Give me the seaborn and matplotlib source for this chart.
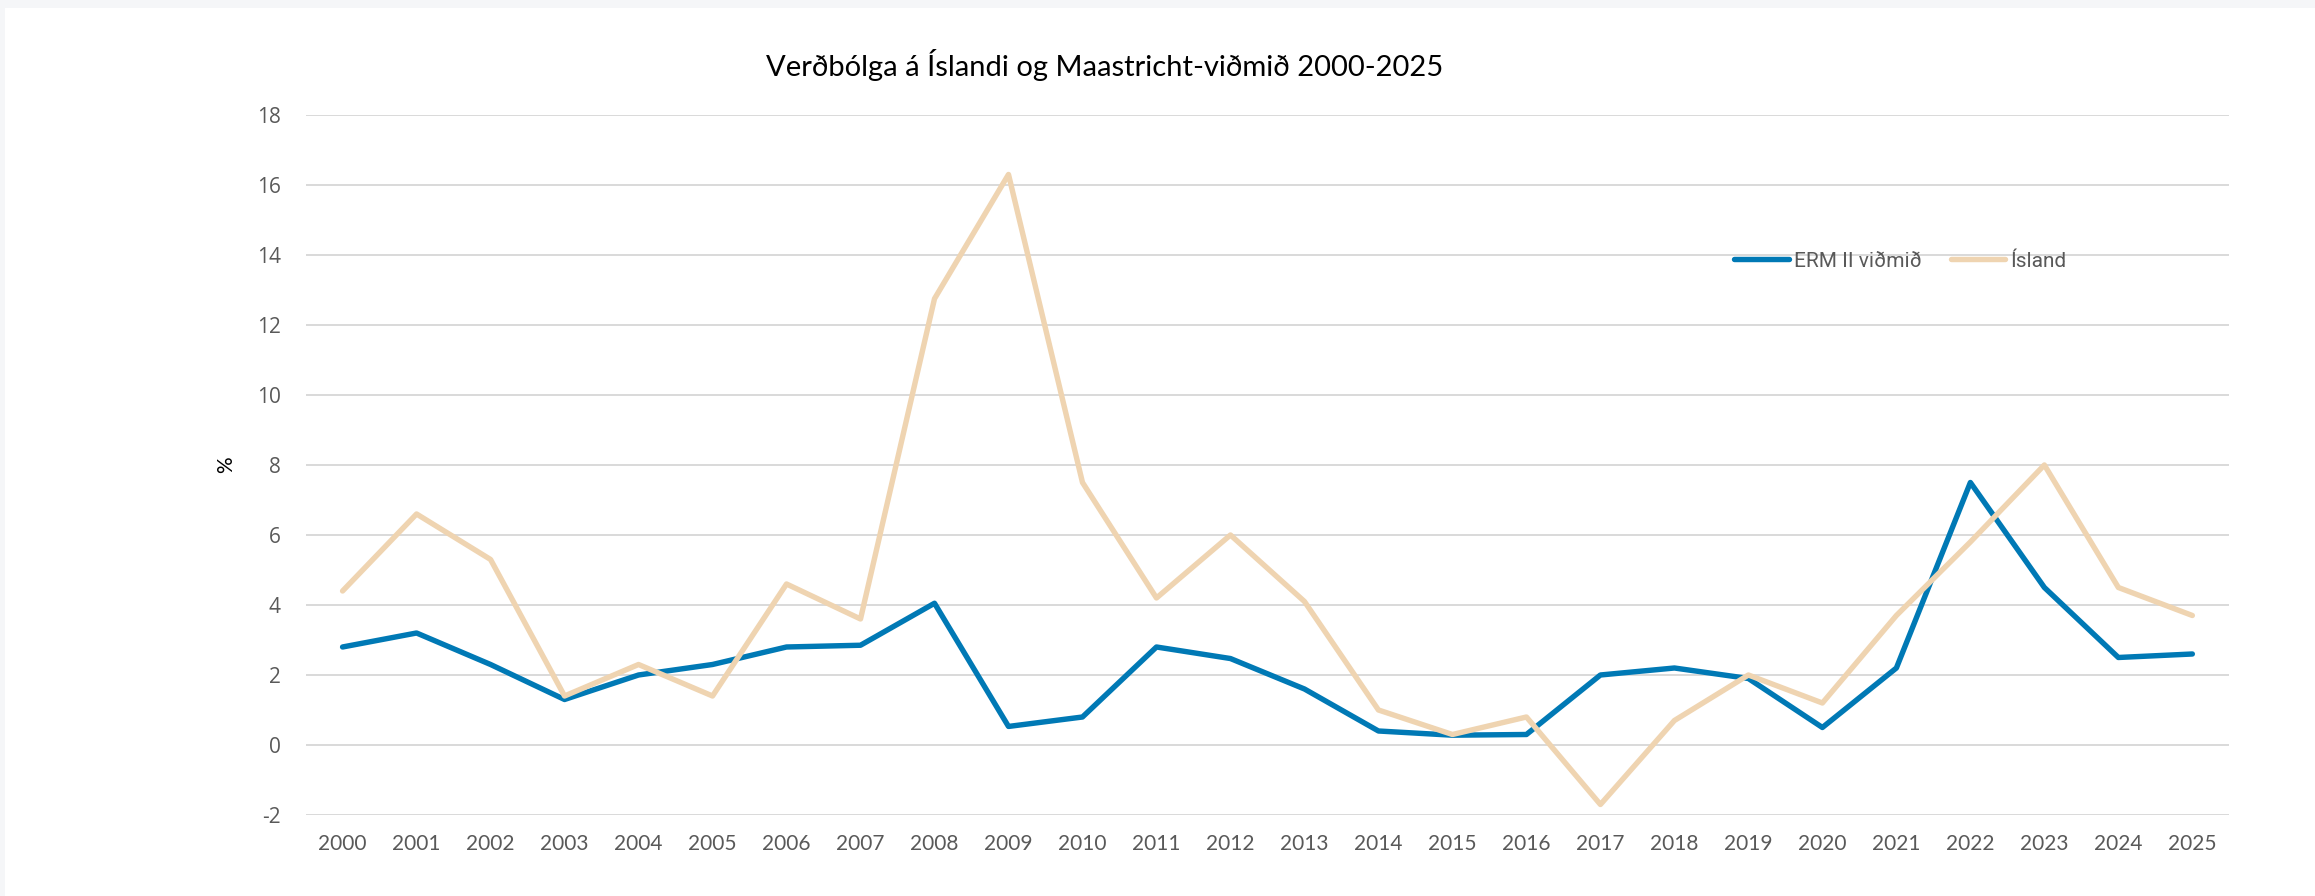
import matplotlib
matplotlib.use("Agg")
import matplotlib.pyplot as plt
import seaborn as sns
import pandas as pd
from matplotlib.patches import Rectangle

years = list(range(2000, 2026))
erm_ii = [2.8, 3.2, 2.3, 1.3, 2.0, 2.3, 2.8, 2.85, 4.05, 0.53, 0.8, 2.8, 2.47,
          1.6, 0.4, 0.28, 0.3, 2.0, 2.2, 1.9, 0.5, 2.2, 7.5, 4.5, 2.5, 2.6]
island = [4.4, 6.6, 5.3, 1.4, 2.3, 1.4, 4.6, 3.6, 12.75, 16.3, 7.5, 4.2, 6.0,
          4.1, 1.0, 0.3, 0.8, -1.7, 0.7, 2.0, 1.2, 3.7, 5.8, 8.0, 4.5, 3.7]
series_names = ["ERM II viðmið", "Ísland"]
y_ticks = list(range(-2, 19, 2))

df = pd.DataFrame({
    "Ár": years * 2,
    "Verðbólga": erm_ii + island,
    "Röð": [series_names[0]] * len(years) + [series_names[1]] * len(years),
})

sns.set_theme(style="white")
plt.rcParams["font.family"] = ["Lato", "DejaVu Sans"]

fig = plt.figure(figsize=(23.15, 8.96), dpi=100)
fig.patch.set_facecolor("#f5f6f8")
fig.patches.append(Rectangle((0.002, 0), 0.998, 0.991, transform=fig.transFigure,
                             facecolor="white", edgecolor="none", zorder=-1))
ax = fig.add_axes([0.132, 0.0904, 0.831, 0.7813])
ax.set_facecolor("none")

sns.lineplot(data=df, x="Ár", y="Verðbólga", hue="Röð", hue_order=series_names,
             palette=["#0079b5", "#efd4b1"], linewidth=3.9, ax=ax, legend=True)

ax.set_xlim(years[0] - 0.5, years[-1] + 0.5)
ax.set_ylim(-2, 18)
ax.set_xticks(years)
ax.set_xticklabels([str(y) for y in years], fontsize=15, color="#595959")
ax.set_yticks(y_ticks)
ax.set_yticklabels([str(v) for v in y_ticks], fontsize=15, color="#595959",
                   family="Open Sans")
ax.tick_params(axis="both", length=0)
ax.tick_params(axis="x", pad=14)
ax.tick_params(axis="y", pad=18)
ax.yaxis.grid(True, color="#d9d9d9", linewidth=1.4)
ax.set_axisbelow(True)
for s in ax.spines.values():
    s.set_visible(False)

ax.set_xlabel("")
ax.set_ylabel("%", fontsize=15, color="black")
ax.yaxis.set_label_coords(-0.036, 0.5)

leg = ax.legend(loc="center", bbox_to_anchor=(0.829, 0.791), ncol=2, frameon=False,
                handlelength=2.6, columnspacing=1.4, handletextpad=0.25,
                prop={"family": "Roboto", "size": 15})
for t in leg.get_texts():
    t.set_color("#595959")

fig.text(0.477, 0.927, "Verðbólga á Íslandi og Maastricht-viðmið 2000-2025",
         ha="center", va="center", fontsize=21, color="black")

fig.savefig("out.png", dpi=100)
